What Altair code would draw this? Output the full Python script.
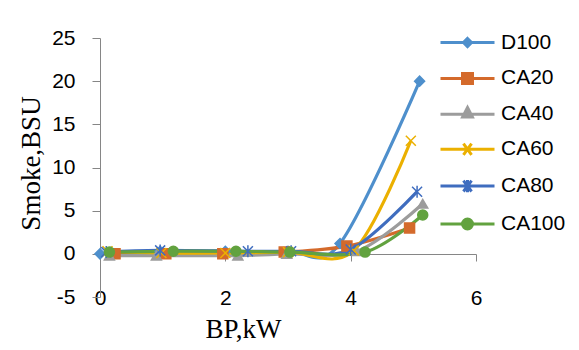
import altair as alt
import pandas as pd

series = ["D100", "CA20", "CA40", "CA60", "CA80", "CA100"]

bp_D100 = [0.0, 0.96, 2.0, 3.0, 3.83, 5.10]
smoke_D100 = [0.0, 0.3, 0.3, 0.3, 1.2, 20.0]

bp_CA20 = [0.24, 1.05, 1.96, 2.94, 3.94, 4.94]
smoke_CA20 = [0.0, 0.0, 0.0, 0.2, 0.9, 3.0]

bp_CA40 = [0.15, 0.90, 2.20, 2.98, 4.10, 5.15]
smoke_CA40 = [-0.2, -0.2, -0.2, 0.0, 0.3, 5.8]

bp_CA60 = [0.12, 0.98, 2.00, 3.00, 4.05, 4.96]
smoke_CA60 = [0.3, 0.1, 0.1, 0.2, 0.4, 13.1]

bp_CA80 = [0.10, 0.96, 2.36, 3.05, 4.00, 5.06]
smoke_CA80 = [0.2, 0.4, 0.3, 0.3, 0.5, 7.2]

bp_CA100 = [0.15, 1.17, 2.17, 3.03, 4.23, 5.15]
smoke_CA100 = [0.2, 0.3, 0.3, 0.2, 0.2, 4.5]

x_ticks = [0, 2, 4, 6]
y_ticks = [-5, 0, 5, 10, 15, 20, 25]

colors = ["#4E8FCC", "#D46A2B", "#9C9C9C", "#EBB000", "#3F6DBF", "#62A23F"]
marker_shapes = [
    "diamond",
    "square",
    "triangle-up",
    "M-1,-1L1,1M-1,1L1,-1",
    "M-1,-1L1,1M-1,1L1,-1M0,-1.2V1.2",
    "circle",
]
marker_sizes = [100, 100, 110, 150, 150, 150]
legend_paths = [
    "M-2,0H2M0,-0.3L0.3,0L0,0.3L-0.3,0Z",
    "M-2,0H2M-0.37,-0.37H0.37V0.37H-0.37Z",
    "M-2,0H2M0,-0.5L0.36,0.2H-0.36Z",
    "M-2,0H2M-0.3,-0.42L0.3,0.42M-0.3,0.42L0.3,-0.42",
    "M-2,0H2M-0.3,-0.4L0.3,0.4M-0.3,0.4L0.3,-0.4M0,-0.45V0.45",
    "M-2,0H2M0.37,0A0.37,0.37,0,1,1,-0.37,0A0.37,0.37,0,1,1,0.37,0Z",
]

xs = [bp_D100, bp_CA20, bp_CA40, bp_CA60, bp_CA80, bp_CA100]
ys = [smoke_D100, smoke_CA20, smoke_CA40, smoke_CA60, smoke_CA80, smoke_CA100]
rows = []
for s, xv, yv in zip(series, xs, ys):
    for a, b in zip(xv, yv):
        rows.append({"series": s, "bp": a, "smoke": b})
df = pd.DataFrame(rows)

W, H = 376, 259

X = alt.X(
    "bp:Q",
    scale=alt.Scale(domain=[0, 6], nice=False, zero=False),
    axis=alt.Axis(
        values=x_ticks,
        offset=-43,
        grid=False,
        domainColor="#868686",
        tickColor="#868686",
        tickSize=7,
        labelFlush=False,
        labelFont="Liberation Sans",
        labelFontSize=21,
        labelColor="#000000",
        labelPadding=37,
        labelBaseline="middle",
        labelExpr="'' + datum.value",
        title="BP,kW",
        titleFont="Liberation Serif",
        titleFontSize=27,
        titleFontWeight="normal",
        titleColor="#000000",
        titleX=143,
        titleY=75,
        titleAnchor="middle",
        titleBaseline="middle",
    ),
)
Y = alt.Y(
    "smoke:Q",
    scale=alt.Scale(domain=[-5, 25], nice=False, zero=False),
    axis=alt.Axis(
        values=y_ticks,
        grid=False,
        domainColor="#868686",
        tickColor="#868686",
        tickSize=8,
        labelFlush=False,
        labelFont="Liberation Sans",
        labelFontSize=21,
        labelColor="#000000",
        labelPadding=17,
        labelExpr="'' + datum.value",
        title="Smoke,BSU",
        titleFont="Liberation Serif",
        titleFontSize=27,
        titleFontWeight="normal",
        titleColor="#000000",
        titleX=-69,
        titleY=125,
        titleAngle=270,
        titleAlign="center",
        titleBaseline="middle",
    ),
)

color_scale = alt.Scale(domain=series, range=colors)

lines = alt.Chart(df).mark_line(interpolate="cardinal", strokeWidth=3.2).encode(
    x=X, y=Y, color=alt.Color("series:N", scale=color_scale, legend=None)
)

points = alt.Chart(df).mark_point(filled=True, strokeWidth=1.5, opacity=1).encode(
    x=X,
    y=Y,
    color=alt.Color("series:N", scale=color_scale, legend=None),
    stroke=alt.Stroke("series:N", scale=alt.Scale(domain=series, range=colors), legend=None),
    shape=alt.Shape("series:N", scale=alt.Scale(domain=series, range=marker_shapes), legend=None),
    size=alt.Size("series:N", scale=alt.Scale(domain=series, range=marker_sizes), legend=None),
)

leg_props = dict(
    orient="none",
    legendX=352.5,
    legendY=-10.5,
    title=None,
    padding=0,
    labelFont="Liberation Sans",
    labelFontSize=21,
    labelColor="#000000",
    labelOffset=18.5,
    rowPadding=9.9,
    symbolSize=729,
    symbolStrokeWidth=3,
)

legend_layer = alt.Chart(df).transform_filter("false").mark_point(
    opacity=1, strokeWidth=3, size=729, filled=True
).encode(
    x=X,
    y=Y,
    fill=alt.Fill("series:N", scale=alt.Scale(domain=series, range=colors), legend=alt.Legend(**leg_props)),
    stroke=alt.Stroke("series:N", scale=alt.Scale(domain=series, range=colors), legend=alt.Legend(**leg_props)),
    shape=alt.Shape("series:N", scale=alt.Scale(domain=series, range=legend_paths), legend=alt.Legend(**leg_props)),
)

chart = (
    alt.layer(lines, points, legend_layer)
    .resolve_scale(shape="independent", fill="independent", stroke="independent", size="independent")
    .properties(
        width=W,
        height=H,
        autosize=alt.AutoSizeParams(type="none"),
        padding={"left": 100, "top": 38, "right": 103, "bottom": 53},
        background="#FFFFFF",
    )
    .configure_view(stroke=None)
)

chart.save("out.html", embed_options={"renderer": "svg", "actions": False})
